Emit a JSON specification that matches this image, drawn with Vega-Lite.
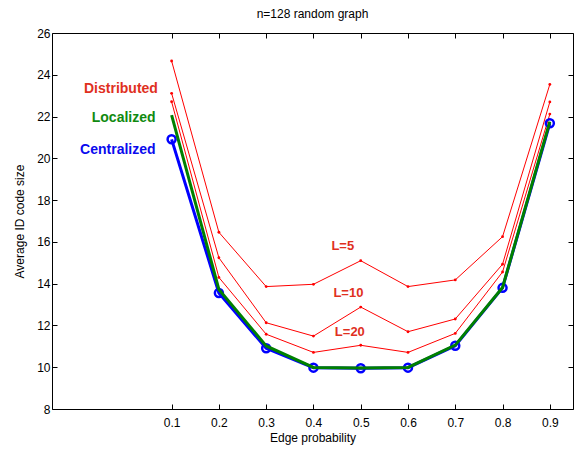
{
  "$schema": "https://vega.github.io/schema/vega-lite/v6.json",
  "width": 521,
  "height": 376,
  "autosize": {"type": "none"},
  "padding": {"left": 52, "top": 33, "right": 1, "bottom": 40},
  "background": "white",
  "title": {"text": "n=128 random graph", "fontSize": 12, "fontWeight": "normal", "font": "Liberation Sans", "color": "#000", "offset": 6},
  "config": {
    "view": {"stroke": "#000", "strokeWidth": 1},
    "axis": {"grid": false, "domain": false, "labelFont": "Liberation Sans", "titleFont": "Liberation Sans", "labelFontSize": 12, "titleFontSize": 12, "titleFontWeight": "normal", "labelColor": "#000", "titleColor": "#000", "tickColor": "#000", "tickSize": -5}
  },
  "datasets": {
    "lines": [
      {"series": "L=5", "p": 0.1, "v": 24.66}, {"series": "L=5", "p": 0.2, "v": 16.46}, {"series": "L=5", "p": 0.3, "v": 13.86}, {"series": "L=5", "p": 0.4, "v": 13.97}, {"series": "L=5", "p": 0.5, "v": 15.10}, {"series": "L=5", "p": 0.6, "v": 13.86}, {"series": "L=5", "p": 0.7, "v": 14.18}, {"series": "L=5", "p": 0.8, "v": 16.25}, {"series": "L=5", "p": 0.9, "v": 23.54},
      {"series": "L=10", "p": 0.1, "v": 23.11}, {"series": "L=10", "p": 0.2, "v": 15.24}, {"series": "L=10", "p": 0.3, "v": 12.13}, {"series": "L=10", "p": 0.4, "v": 11.49}, {"series": "L=10", "p": 0.5, "v": 12.88}, {"series": "L=10", "p": 0.6, "v": 11.70}, {"series": "L=10", "p": 0.7, "v": 12.31}, {"series": "L=10", "p": 0.8, "v": 14.93}, {"series": "L=10", "p": 0.9, "v": 22.70},
      {"series": "L=20", "p": 0.1, "v": 22.71}, {"series": "L=20", "p": 0.2, "v": 14.30}, {"series": "L=20", "p": 0.3, "v": 11.58}, {"series": "L=20", "p": 0.4, "v": 10.71}, {"series": "L=20", "p": 0.5, "v": 11.05}, {"series": "L=20", "p": 0.6, "v": 10.71}, {"series": "L=20", "p": 0.7, "v": 11.62}, {"series": "L=20", "p": 0.8, "v": 14.56}, {"series": "L=20", "p": 0.9, "v": 22.12},
      {"series": "Centralized", "p": 0.1, "v": 20.91}, {"series": "Centralized", "p": 0.2, "v": 13.55}, {"series": "Centralized", "p": 0.3, "v": 10.91}, {"series": "Centralized", "p": 0.4, "v": 9.98}, {"series": "Centralized", "p": 0.5, "v": 9.95}, {"series": "Centralized", "p": 0.6, "v": 9.98}, {"series": "Centralized", "p": 0.7, "v": 11.03}, {"series": "Centralized", "p": 0.8, "v": 13.80}, {"series": "Centralized", "p": 0.9, "v": 21.68},
      {"series": "Localized", "p": 0.1, "v": 22.07}, {"series": "Localized", "p": 0.2, "v": 13.72}, {"series": "Localized", "p": 0.3, "v": 11.02}, {"series": "Localized", "p": 0.4, "v": 9.99}, {"series": "Localized", "p": 0.5, "v": 9.96}, {"series": "Localized", "p": 0.6, "v": 9.99}, {"series": "Localized", "p": 0.7, "v": 11.06}, {"series": "Localized", "p": 0.8, "v": 13.82}, {"series": "Localized", "p": 0.9, "v": 21.76}
    ],
    "labels": [
      {"text": "Distributed", "p": 0.071, "v": 23.32, "kind": "Distributed", "pos": "side"},
      {"text": "Localized", "p": 0.066, "v": 21.92, "kind": "Localized", "pos": "side"},
      {"text": "Centralized", "p": 0.066, "v": 20.40, "kind": "Centralized", "pos": "side"},
      {"text": "L=5", "p": 0.462, "v": 15.80, "kind": "Distributed", "pos": "mid"},
      {"text": "L=10", "p": 0.474, "v": 13.57, "kind": "Distributed", "pos": "mid"},
      {"text": "L=20", "p": 0.477, "v": 11.70, "kind": "Distributed", "pos": "mid"}
    ]
  },
  "resolve": {"axis": {"x": "independent", "y": "independent"}},
  "layer": [
    {
      "data": {"name": "lines"},
      "transform": [{"filter": "datum.series === 'L=5' || datum.series === 'L=10' || datum.series === 'L=20'"}],
      "mark": {"type": "line", "color": "#ff0000", "strokeWidth": 1, "point": {"filled": true, "color": "#ff0000", "size": 8}},
      "encoding": {
        "x": {"field": "p", "type": "quantitative", "scale": {"domain": [-0.153, 0.949], "nice": false, "zero": false}, "axis": {"orient": "bottom", "values": [0.1, 0.2, 0.3, 0.4, 0.5, 0.6, 0.7, 0.8, 0.9], "title": "Edge probability", "labelPadding": 13, "titlePadding": 4, "format": ".1f"}},
        "y": {"field": "v", "type": "quantitative", "scale": {"domain": [8, 26], "nice": false, "zero": false}, "axis": {"orient": "left", "values": [8, 10, 12, 14, 16, 18, 20, 22, 24, 26], "title": "Average ID code size", "labelPadding": 7, "titlePadding": 10}},
        "detail": {"field": "series"}
      }
    },
    {
      "data": {"name": "lines"},
      "transform": [{"filter": "datum.series === 'Centralized'"}],
      "mark": {"type": "line", "color": "#0000ff", "strokeWidth": 3},
      "encoding": {
        "x": {"field": "p", "type": "quantitative", "axis": {"orient": "top", "values": [0.1, 0.2, 0.3, 0.4, 0.5, 0.6, 0.7, 0.8, 0.9], "labels": false, "title": null}},
        "y": {"field": "v", "type": "quantitative", "axis": {"orient": "right", "values": [8, 10, 12, 14, 16, 18, 20, 22, 24, 26], "labels": false, "title": null}}
      }
    },
    {
      "data": {"name": "lines"},
      "transform": [{"filter": "datum.series === 'Centralized'"}],
      "mark": {"type": "point", "color": "#0000ff", "filled": false, "size": 64, "strokeWidth": 2.5, "opacity": 1},
      "encoding": {
        "x": {"field": "p", "type": "quantitative", "axis": null},
        "y": {"field": "v", "type": "quantitative", "axis": null}
      }
    },
    {
      "data": {"name": "lines"},
      "transform": [{"filter": "datum.series === 'Localized'"}],
      "mark": {"type": "line", "color": "#008000", "strokeWidth": 3},
      "encoding": {
        "x": {"field": "p", "type": "quantitative", "axis": null},
        "y": {"field": "v", "type": "quantitative", "axis": null}
      }
    },
    {
      "data": {"name": "labels"},
      "transform": [{"filter": "datum.pos === 'side'"}],
      "mark": {"type": "text", "font": "Liberation Sans", "fontWeight": "bold", "fontSize": 14, "baseline": "middle", "align": "right"},
      "encoding": {
        "x": {"field": "p", "type": "quantitative", "axis": null},
        "y": {"field": "v", "type": "quantitative", "axis": null},
        "text": {"field": "text"},
        "color": {"field": "kind", "type": "nominal", "scale": {"domain": ["Distributed", "Localized", "Centralized"], "range": ["#e0301e", "#108a10", "#0a0aee"]}, "legend": null}
      }
    },
    {
      "data": {"name": "labels"},
      "transform": [{"filter": "datum.pos === 'mid'"}],
      "mark": {"type": "text", "font": "Liberation Sans", "fontWeight": "bold", "fontSize": 13, "baseline": "middle", "align": "center"},
      "encoding": {
        "x": {"field": "p", "type": "quantitative", "axis": null},
        "y": {"field": "v", "type": "quantitative", "axis": null},
        "text": {"field": "text"},
        "color": {"field": "kind", "type": "nominal", "scale": {"domain": ["Distributed", "Localized", "Centralized"], "range": ["#e0301e", "#108a10", "#0a0aee"]}, "legend": null}
      }
    }
  ]
}
